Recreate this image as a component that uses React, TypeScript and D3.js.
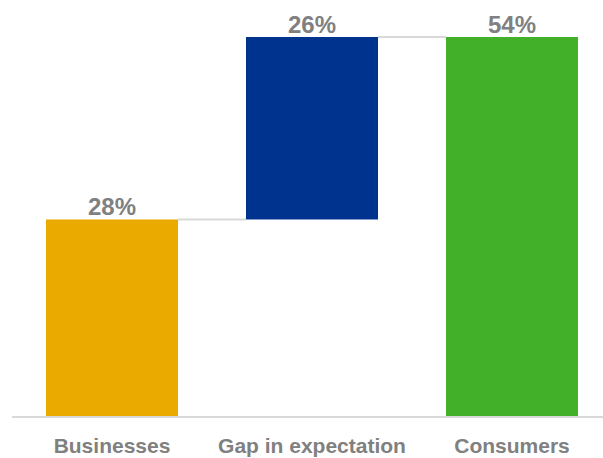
import React from "react";
import * as d3 from "d3";

const categories = ["Businesses", "Gap in expectation", "Consumers"];
const values = [28, 26, 54];
const labels = ["28%", "26%", "54%"];
const colors = ["#EAAA00", "#00338D", "#43B02A"];
// waterfall: start offsets
const bases = [0, 28, 0];

const W = 603;
const H = 458;
const baseline = 416;
const topY = 37;

export default function App() {
  const x = d3
    .scaleBand<string>()
    .domain(categories)
    .range([12, 612])
    .paddingInner(0.34)
    .paddingOuter(0.17);
  const y = d3.scaleLinear().domain([0, 54]).range([baseline, topY]);

  const font = "'Liberation Sans', Arial, Helvetica, sans-serif";

  return (
    <div style={{ position: "absolute", left: 0, top: 0 }}>
      <svg width={W} height={H} style={{ display: "block" }}>
        <rect width={W} height={H} fill="#fff" />
        {categories.slice(0, -1).map((c, i) => {
          const end = bases[i] + values[i];
          const x1 = (x(c) as number) + x.bandwidth();
          const x2 = x(categories[i + 1]) as number;
          return (
            <line
              key={"conn" + i}
              x1={x1}
              x2={x2}
              y1={y(end)}
              y2={y(end)}
              stroke="#d9d9d9"
              strokeWidth={2}
            />
          );
        })}
        {categories.map((c, i) => {
          const y0 = y(bases[i]);
          const y1 = y(bases[i] + values[i]);
          return (
            <g key={c}>
              <rect
                x={x(c)}
                y={y1}
                width={x.bandwidth()}
                height={y0 - y1}
                fill={colors[i]}
              />
              <text
                x={(x(c) as number) + x.bandwidth() / 2}
                y={y1 - 4.5}
                textAnchor="middle"
                fontFamily={font}
                fontWeight="bold"
                fontSize={24}
                fill="#808080"
              >
                {labels[i]}
              </text>
              <text
                x={(x(c) as number) + x.bandwidth() / 2}
                y={453}
                textAnchor="middle"
                fontFamily={font}
                fontWeight="bold"
                fontSize={21}
                fill="#808080"
              >
                {c}
              </text>
            </g>
          );
        })}
        <line x1={12} x2={W} y1={baseline + 1} y2={baseline + 1} stroke="#d9d9d9" strokeWidth={2} />
      </svg>
    </div>
  );
}
